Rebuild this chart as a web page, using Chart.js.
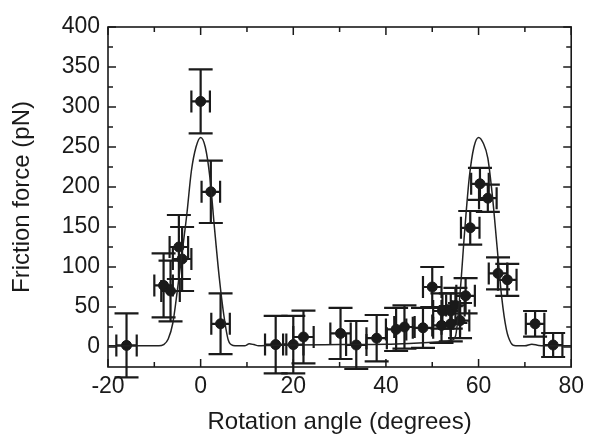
<!DOCTYPE html>
<html>
<head>
<meta charset="utf-8">
<script src="https://cdn.jsdelivr.net/npm/chart.js@4.4.1/dist/chart.umd.min.js"></script>
<style>
  html, body { margin: 0; padding: 0; background: #fff; }
  #wrap { width: 590px; height: 438px; }
</style>
</head>
<body>
<div id="wrap"><canvas id="chart" width="590" height="438"></canvas></div>
<script>
/* ================= DATA ================= */

// measured points
const angle    = [-16, -8, -6.5, -4.7, -4, 0, 2.2, 4.3,
                  16.2, 20, 22.2, 30.2, 33.6, 38, 42.2, 44, 48,
                  50, 52.2, 54, 52, 54, 56, 55, 57.2,
                  58.2, 60.3, 62, 64.2, 66.2, 72.2, 76.1];
const friction = [2, 77, 70, 125, 110, 307, 194, 29,
                  3, 3, 12.5, 17, 2.5, 11, 22, 25, 24,
                  75, 45, 45, 27, 29, 33, 52, 64,
                  149, 204, 186, 92, 84, 29, 2.5];
const angleErr = [2.2, 2, 2, 2, 2, 2, 2, 2,
                  2.3, 2.2, 2.2, 2.2, 2.2, 2.2, 2.2, 2.2, 2.2,
                  2, 2, 2, 2, 2, 2, 2, 2,
                  2, 1.9, 1.9, 2, 2, 2, 2];
const forceErr = [40, 40, 38, 40, 40, 40, 39, 38,
                  36, 36, 33, 32, 30, 29, 27, 27, 25,
                  25, 22, 22, 22, 22, 22, 22, 22,
                  21, 20, 17, 20, 20, 16, 15];

// fitted curve, sampled from the drawn line
const fitAngle = [-20, -12, -9, -8, -7, -6, -5, -4, -3, -2, -1, 0, 1, 2, 3, 4, 5, 6, 7, 8,
                  9.5, 10.5, 11.5, 12.5, 15, 20, 30, 40, 45, 50, 53, 54, 55, 56, 57, 58, 59,
                  60, 61, 62, 63, 64, 65, 66, 67, 68, 70, 71.5, 73, 76, 80];
const fitForce = [1.5, 1.5, 1.5, 3, 10, 30, 72, 118, 165, 220, 250, 262, 250, 212, 148, 88, 40, 8, 2, 1.5,
                  1.5, 4, 3, 1.5, 2, 2.5, 3, 3.5, 4.5, 6, 7, 8, 13, 67, 145, 212, 250,
                  262, 255, 236, 188, 125, 62, 22, 5, 1.5, 1.5, 3.5, 2, 1.5, 1.5];

// axes
const xTicks = [-20, 0, 20, 40, 60, 80];
const xMinor = [-10, 10, 30, 50, 70];
const yTicks = [0, 50, 100, 150, 200, 250, 300, 350, 400];
const yMinor = [25, 75, 125, 175, 225, 275, 325, 375];

/* ================= STYLE ================= */

const INK = "#1a1a1a";
const FONT = "'Liberation Sans', Arial, sans-serif";

/* ================= PLUGINS ================= */

// error bars with caps, drawn under the markers and not clipped
const errorBars = {
  id: "errorBars",
  beforeDatasetDraw(chart, args) {
    if (args.index !== 1) return;
    const { ctx, scales: { x, y } } = chart;
    const cap = 12;
    ctx.save();
    ctx.strokeStyle = INK;
    ctx.lineWidth = 2.2;
    for (let i = 0; i < angle.length; i++) {
      const px = x.getPixelForValue(angle[i]);
      const py = y.getPixelForValue(friction[i]);
      const x0 = x.getPixelForValue(angle[i] - angleErr[i]);
      const x1 = x.getPixelForValue(angle[i] + angleErr[i]);
      const y0 = y.getPixelForValue(friction[i] + forceErr[i]);
      const y1 = y.getPixelForValue(friction[i] - forceErr[i]);
      ctx.beginPath();
      // vertical bar + caps
      ctx.moveTo(px, y0); ctx.lineTo(px, y1);
      ctx.moveTo(px - cap, y0); ctx.lineTo(px + cap, y0);
      ctx.moveTo(px - cap, y1); ctx.lineTo(px + cap, y1);
      // horizontal bar + caps
      ctx.moveTo(x0, py); ctx.lineTo(x1, py);
      ctx.moveTo(x0, py - 11); ctx.lineTo(x0, py + 11);
      ctx.moveTo(x1, py - 11); ctx.lineTo(x1, py + 11);
      ctx.stroke();
    }
    ctx.restore();
  }
};

// box frame with inward ticks on all four sides
const frame = {
  id: "frame",
  afterDraw(chart) {
    const { ctx, chartArea: a, scales: { x, y } } = chart;
    ctx.save();
    ctx.strokeStyle = INK;
    ctx.lineWidth = 1.6;
    ctx.strokeRect(a.left, a.top, a.right - a.left, a.bottom - a.top);
    ctx.lineWidth = 1.5;
    ctx.beginPath();
    const xt = (v, len) => {
      const p = x.getPixelForValue(v);
      ctx.moveTo(p, a.bottom); ctx.lineTo(p, a.bottom - len);
      ctx.moveTo(p, a.top); ctx.lineTo(p, a.top + len);
    };
    const yt = (v, len) => {
      const p = y.getPixelForValue(v);
      ctx.moveTo(a.left, p); ctx.lineTo(a.left + len, p);
      ctx.moveTo(a.right, p); ctx.lineTo(a.right - len, p);
    };
    xTicks.forEach(v => xt(v, 8));
    xMinor.forEach(v => xt(v, 5));
    yTicks.forEach(v => yt(v, 8));
    yMinor.forEach(v => yt(v, 5));
    ctx.stroke();
    ctx.restore();
  }
};

/* ================= CHART ================= */

new Chart(document.getElementById("chart"), {
  type: "scatter",
  data: {
    datasets: [
      {
        data: fitAngle.map((a, i) => ({ x: a, y: fitForce[i] })),
        showLine: true,
        borderColor: "#222",
        borderWidth: 1.5,
        pointRadius: 0,
        cubicInterpolationMode: "monotone"
      },
      {
        data: angle.map((a, i) => ({ x: a, y: friction[i] })),
        pointRadius: 5,
        pointBackgroundColor: INK,
        pointBorderColor: INK,
        clip: false
      }
    ]
  },
  options: {
    responsive: false,
    devicePixelRatio: 1,
    animation: false,
    layout: { padding: { top: 27, right: 16, left: 0, bottom: 0 } },
    plugins: { legend: { display: false }, tooltip: { enabled: false } },
    scales: {
      x: {
        type: "linear",
        min: -20,
        max: 80,
        afterBuildTicks: s => { s.ticks = xTicks.map(v => ({ value: v })); },
        afterFit: s => { s.height = 71; },
        grid: { display: false, drawTicks: false },
        border: { display: false },
        ticks: { color: INK, font: { family: FONT, size: 23 }, padding: 6, maxRotation: 0 },
        title: {
          display: true,
          text: "Rotation angle (degrees)",
          color: INK,
          font: { family: FONT, size: 24 },
          padding: { top: 0, bottom: 1 }
        }
      },
      y: {
        type: "linear",
        min: -25,
        max: 400,
        afterBuildTicks: s => { s.ticks = yTicks.map(v => ({ value: v })); },
        afterFit: s => { s.width = 108; },
        grid: { display: false, drawTicks: false },
        border: { display: false },
        ticks: { color: INK, font: { family: FONT, size: 23 }, padding: 8 },
        title: {
          display: true,
          text: "Friction force (pN)",
          color: INK,
          font: { family: FONT, size: 24 },
          padding: { top: 8, bottom: 0 }
        }
      }
    }
  },
  plugins: [errorBars, frame]
});
</script>
</body>
</html>
